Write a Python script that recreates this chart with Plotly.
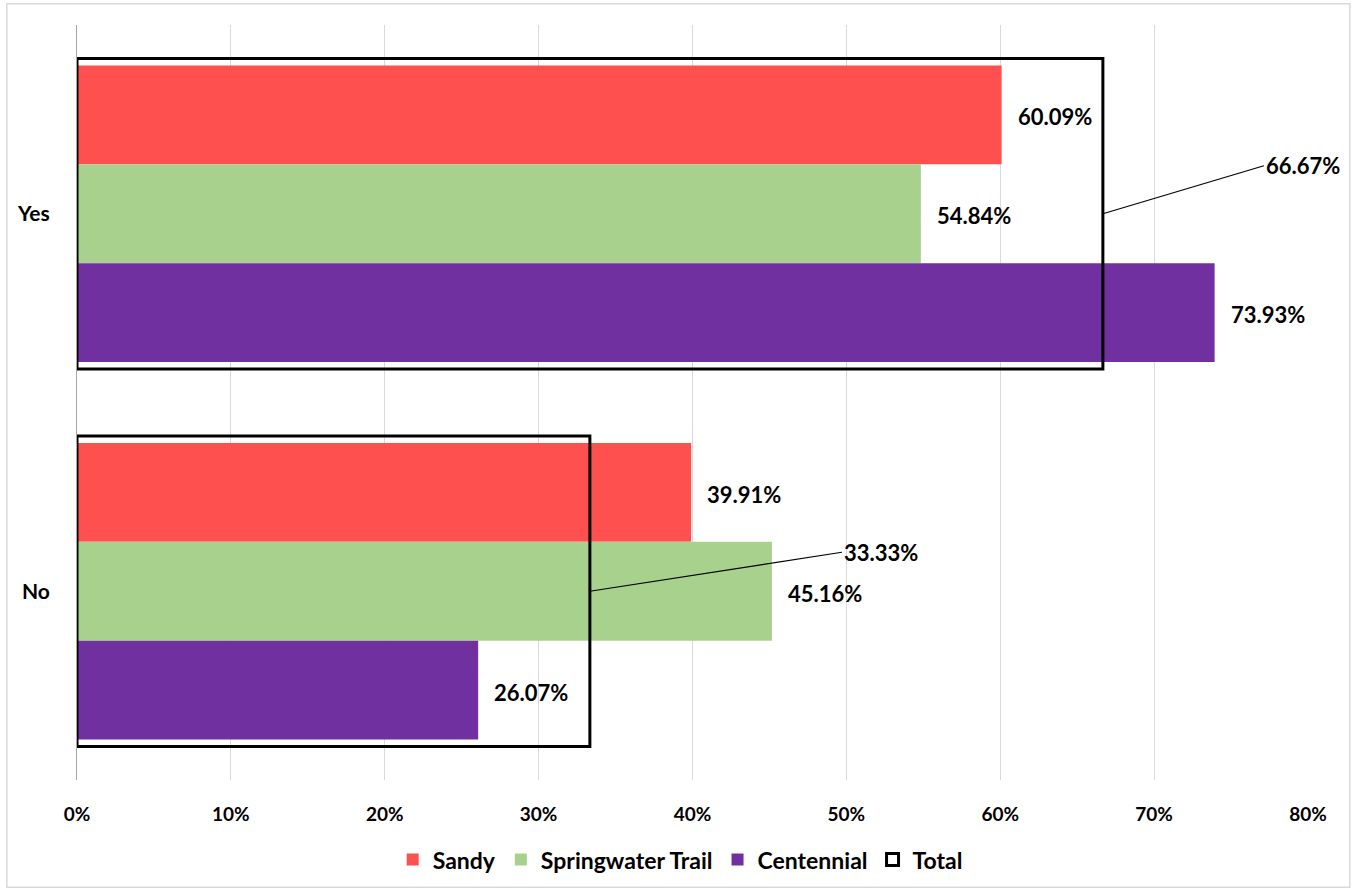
import plotly.graph_objects as go

# Survey answers (share of respondents, %)
categories = ["No", "Yes"]
sandy = [39.91, 60.09]
springwater = [45.16, 54.84]
centennial = [26.07, 73.93]
total = [33.33, 66.67]
x_ticks = [0, 10, 20, 30, 40, 50, 60, 70, 80]

positions = list(range(len(categories)))
bar_w = 0.262
total_w = 0.822

FONT = "Lato"
series = [
    ("Sandy", sandy, "#FF5050", bar_w / 2),
    ("Springwater Trail", springwater, "#A9D18E", -bar_w / 2),
    ("Centennial", centennial, "#7030A0", -bar_w * 1.5),
]

fig = go.Figure()
for name, vals, color, off in series:
    fig.add_trace(go.Bar(
        name=name, orientation="h", x=vals, y=positions,
        width=bar_w, offset=off, marker=dict(color=color, line=dict(width=0)),
    ))

fig.add_trace(go.Bar(
    name="Total", orientation="h", x=total, y=positions,
    width=total_w, offset=-total_w / 2,
    marker=dict(color="rgba(0,0,0,0)", line=dict(color="black", width=3)),
))

annotations = []
# value labels to the right of each coloured bar
for name, vals, color, off in series:
    for p, v in zip(positions, vals):
        annotations.append(dict(
            x=v, y=p + off + bar_w / 2, xref="x", yref="y",
            text=f"{v:.2f}%", showarrow=False, xanchor="left", yanchor="middle",
            xshift=14, yshift=-2,
            font=dict(family=FONT, size=22, color="black", weight="bold"),
        ))

# callout labels for the Total outline bars, joined by leader lines
callout_offsets = [(252, -39), (161, -48)]
for p, v, (ax, ay) in zip(positions, total, callout_offsets):
    annotations.append(dict(
        x=v, y=p, xref="x", yref="y", text=f"{v:.2f}%",
        showarrow=True, arrowhead=0, arrowwidth=1.2, arrowcolor="black",
        ax=ax, ay=ay, standoff=0, xanchor="left", yanchor="middle",
        font=dict(family=FONT, size=22, color="black", weight="bold"),
    ))

fig.update_layout(
    barmode="overlay",
    width=1354, height=890,
    margin=dict(l=77, r=46, t=25, b=110, autoexpand=False),
    paper_bgcolor="white", plot_bgcolor="white",
    font=dict(family=FONT, size=19, color="black", weight="bold"),
    annotations=annotations,
    showlegend=True,
    legend=dict(
        orientation="h", x=0.49, xanchor="center", y=-0.077, yanchor="top",
        font=dict(family=FONT, size=23, color="black", weight="bold"),
        traceorder="normal", itemwidth=30,
    ),
    shapes=[dict(type="rect", xref="paper", yref="paper",
                 x0=-0.057, x1=1.034, y0=-0.142, y1=1.028,
                 line=dict(color="#D9D9D9", width=1.5))],
)

fig.update_xaxes(
    range=[0, 80], tickvals=x_ticks, ticktext=[f"{t}%" for t in x_ticks],
    showgrid=True, gridcolor="#D9D9D9", gridwidth=1,
    zeroline=False, showline=False, ticks="", ticklabelstandoff=21,
    tickfont=dict(family=FONT, size=19, color="black", weight="bold"),
)
fig.update_yaxes(
    range=[-0.5, 1.5], tickvals=positions, ticktext=categories,
    showgrid=False, zeroline=False, showline=True, linecolor="#A6A6A6", linewidth=1,
    ticks="", ticklabelstandoff=22,
    tickfont=dict(family=FONT, size=21, color="black", weight="bold"),
)

fig.write_html("out.html")
